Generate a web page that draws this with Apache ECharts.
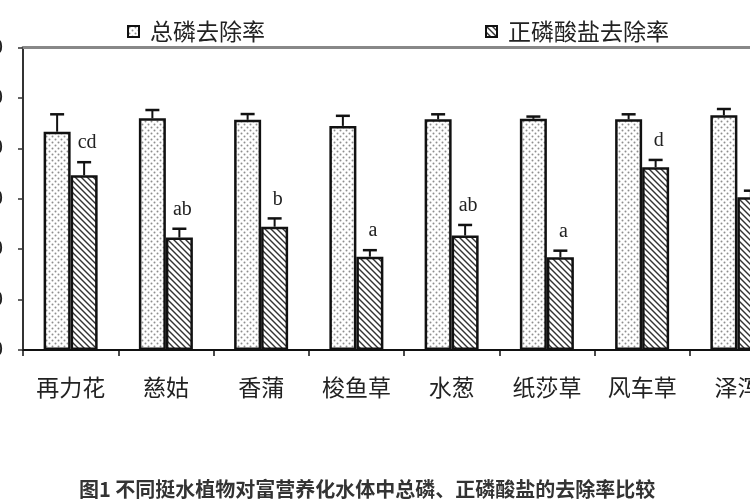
<!DOCTYPE html>
<html>
<head>
<meta charset="utf-8">
<script src="https://cdn.jsdelivr.net/npm/echarts@6/dist/echarts.min.js"></script>
<style>
  html, body { margin: 0; padding: 0; background: #fff; }
  #main { width: 750px; height: 500px; }
</style>
</head>
<body>
<div id="main"></div>
<script>
// 植物名称
var plants = ['再力花', '慈姑', '香蒲', '梭鱼草', '水葱', '纸莎草', '风车草', '泽泻'];
// 总磷去除率 (%) 及标准误
var tpRate = [86.6, 91.9, 91.3, 88.9, 91.5, 91.7, 91.5, 93.1];
var tpErr = [6.9, 3.3, 2.3, 4.0, 2.0, 0.9, 2.0, 2.5];
// 正磷酸盐去除率 (%) 及标准误
var opRate = [69.3, 44.6, 48.9, 37.0, 45.4, 36.8, 72.5, 60.6];
var opErr = [5.2, 3.5, 3.3, 2.6, 4.2, 2.6, 2.9, 2.6];
// 显著性字母
var opLetters = ['cd', 'ab', 'b', 'a', 'ab', 'a', 'd', 'c'];
// y轴刻度
var yTicks = [0, 20, 40, 60, 80, 100, 120];

var chart = echarts.init(document.getElementById('main'));

// 点状填充
function dotPattern() {
    var c = document.createElement('canvas');
    c.width = 6; c.height = 6;
    var ctx = c.getContext('2d');
    ctx.fillStyle = '#fff';
    ctx.fillRect(0, 0, 6, 6);
    ctx.fillStyle = '#8e8e8e';
    ctx.beginPath(); ctx.arc(1.5, 1.5, 1, 0, Math.PI * 2); ctx.fill();
    ctx.beginPath(); ctx.arc(4.5, 4.5, 1, 0, Math.PI * 2); ctx.fill();
    return c;
}
// 斜线填充
function hatchPattern() {
    var c = document.createElement('canvas');
    c.width = 6; c.height = 6;
    var ctx = c.getContext('2d');
    ctx.fillStyle = '#fff';
    ctx.fillRect(0, 0, 6, 6);
    ctx.strokeStyle = '#333';
    ctx.lineWidth = 1.4;
    for (var k = -1; k <= 1; k++) {
        ctx.beginPath();
        ctx.moveTo(k * 6 - 1, -1);
        ctx.lineTo(k * 6 + 7, 7);
        ctx.stroke();
    }
    return c;
}

var BAR_W = 27;

function errData(vals, errs) {
    return vals.map(function (v, i) { return [i, v, errs[i]]; });
}

function errRender(side, letters) {
    return function (params, api) {
        var i = api.value(0);
        var v = api.value(1);
        var e = api.value(2);
        var p0 = api.coord([i, v]);
        var p1 = api.coord([i, v + e]);
        var x = p0[0] + side * BAR_W / 2;
        var children = [
            { type: 'line', shape: { x1: x, y1: p0[1], x2: x, y2: p1[1] },
              style: { stroke: '#111', lineWidth: 2 } },
            { type: 'line', shape: { x1: x - 7, y1: p1[1], x2: x + 7, y2: p1[1] },
              style: { stroke: '#111', lineWidth: 2.5 } }
        ];
        if (letters) {
            children.push({
                type: 'text',
                style: {
                    x: x + 3, y: p1[1] - 9,
                    text: letters[params.dataIndex],
                    fill: '#222',
                    font: '20px "Liberation Serif", serif',
                    align: 'center', verticalAlign: 'bottom'
                }
            });
        }
        return { type: 'group', children: children };
    };
}

chart.setOption({
    backgroundColor: '#fff',
    animation: false,
    grid: {
        left: 23, right: -35, top: 47.5, bottom: 150,
        containLabel: false, outerBoundsMode: 'none'
    },
    legend: [
        {
            data: ['总磷去除率'], left: 122, top: 15, icon: 'rect',
            itemWidth: 11, itemHeight: 11,
            textStyle: { fontSize: 23, color: '#222', fontFamily: 'Noto Sans CJK SC', padding: [0, 0, 0, 6] }
        },
        {
            data: ['正磷酸盐去除率'], left: 480, top: 15, icon: 'rect',
            itemWidth: 11, itemHeight: 11,
            textStyle: { fontSize: 23, color: '#222', fontFamily: 'Noto Sans CJK SC', padding: [0, 0, 0, 6] }
        }
    ],
    title: {
        text: '图1 不同挺水植物对富营养化水体中总磷、正磷酸盐的去除率比较',
        left: 74, top: 474,
        textStyle: { fontSize: 20, fontWeight: 'bold', color: '#333', fontFamily: 'Noto Sans CJK SC' }
    },
    xAxis: [
        {
            type: 'category',
            data: plants,
            axisLine: { lineStyle: { color: '#111', width: 2 } },
            axisTick: { show: true, length: 6, lineStyle: { color: '#111', width: 1.5 } },
            axisLabel: { fontSize: 23, color: '#222', margin: 26, fontFamily: 'Noto Sans CJK SC', interval: 0 }
        },
        {
            type: 'category',
            data: plants,
            position: 'top',
            axisLine: { lineStyle: { color: '#888', width: 3 } },
            axisTick: { show: false },
            axisLabel: { show: false }
        }
    ],
    yAxis: {
        type: 'value',
        min: yTicks[0], max: yTicks[yTicks.length - 1], interval: 20,
        axisLine: { show: true, lineStyle: { color: '#333', width: 2 } },
        axisTick: { show: true, length: 5, lineStyle: { color: '#333', width: 1.5 } },
        axisLabel: { fontSize: 22, color: '#222', margin: 20 },
        splitLine: { show: false }
    },
    series: [
        {
            name: '总磷去除率', type: 'bar', data: tpRate,
            barWidth: BAR_W, barGap: '0%',
            itemStyle: { color: { image: dotPattern(), repeat: 'repeat' }, borderColor: '#111', borderWidth: 2.5 }
        },
        {
            name: '正磷酸盐去除率', type: 'bar', data: opRate,
            barWidth: BAR_W, barGap: '0%',
            itemStyle: { color: { image: hatchPattern(), repeat: 'repeat' }, borderColor: '#111', borderWidth: 2.5 }
        },
        {
            name: 'tpErr', type: 'custom', data: errData(tpRate, tpErr),
            renderItem: errRender(-1, null), z: 5
        },
        {
            name: 'opErr', type: 'custom', data: errData(opRate, opErr),
            renderItem: errRender(1, opLetters), z: 5
        }
    ]
});
</script>
</body>
</html>
